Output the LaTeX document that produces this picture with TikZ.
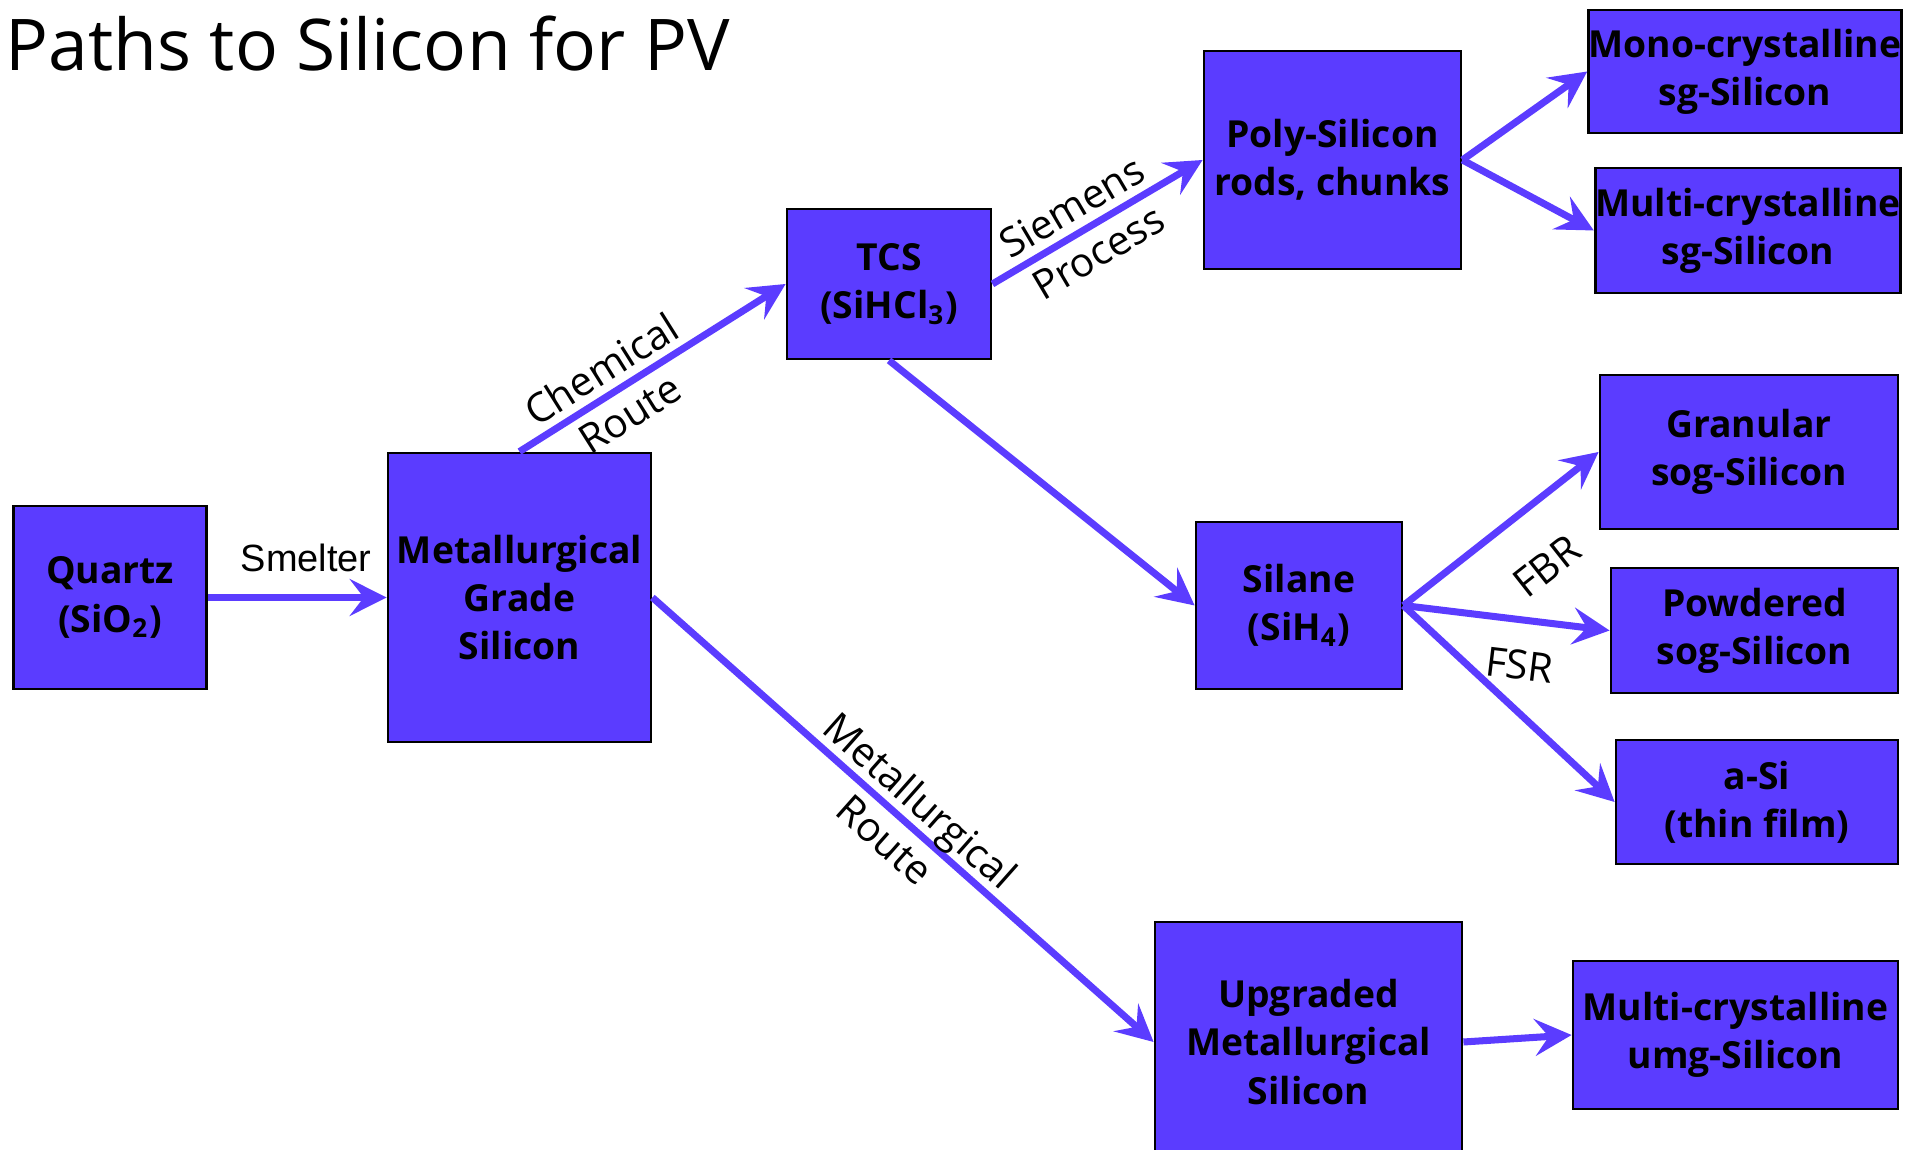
\documentclass[tikz,border=0pt]{standalone}
\usepackage{fontspec}
\setmainfont{Open Sans}
\newfontfamily\smeltfont{Liberation Sans}
\usetikzlibrary{arrows.meta}
\definecolor{siviolet}{RGB}{91,60,255}

\begin{document}
\begin{tikzpicture}[
    box/.style={draw=black, line width=0.8pt, fill=siviolet, align=center, inner sep=0pt,
        font=\fontsize{10.6}{13.7}\selectfont\bfseries},
    flow/.style={draw=siviolet, line width=2pt, -{Stealth[length=10.5pt, width=10.5pt, inset=4pt]}},
    route/.style={font=\fontsize{11.5}{15}\selectfont, align=center, sloped}
]
    % Page frame
    \clip (0,0) rectangle (19.2,11.49);

    % Title
    \node[anchor=base west, inner sep=0pt, font=\fontsize{20.3}{24}\selectfont] (title) at (0.05,10.78) {Paths to Silicon for PV};

    % Raw material and metallurgical grade
    \node[box, minimum width=1.93cm, minimum height=1.83cm] (quartz) at (1.10,5.515) {Quartz\\(SiO\textsubscript{2})};
    \node[box, minimum width=2.63cm, minimum height=2.89cm] (mgs) at (5.195,5.515) {Metallurgical\\Grade\\Silicon};

    % Chemical route
    \node[box, minimum width=2.04cm, minimum height=1.50cm] (tcs) at (8.89,8.65) {TCS\\(SiHCl\textsubscript{3})};
    \node[box, minimum width=2.57cm, minimum height=2.18cm] (poly) at (13.325,9.89) {Poly-Silicon\\rods, chunks};
    \node[box, minimum width=2.06cm, minimum height=1.67cm] (silane) at (12.99,5.435) {Silane\\(SiH\textsubscript{4})};

    % Siemens products
    \node[box, minimum width=3.06cm, minimum height=1.23cm] (mono) at (17.45,10.775) {Mono-crystalline\\sg-Silicon};
    \node[box, minimum width=3.00cm, minimum height=1.25cm] (multisg) at (17.48,9.185) {Multi-crystalline\\sg-Silicon};

    % Silane products
    \node[box, minimum width=2.98cm, minimum height=1.54cm] (granular) at (17.49,6.97) {Granular\\sog-Silicon};
    \node[box, minimum width=2.87cm, minimum height=1.25cm] (powdered) at (17.545,5.185) {Powdered\\sog-Silicon};
    \node[box, minimum width=2.82cm, minimum height=1.24cm] (asi) at (17.57,3.47) {a-Si\\(thin film)};

    % Metallurgical route
    \node[box, minimum width=3.07cm, minimum height=2.40cm] (umgs) at (13.085,1.07) {Upgraded\\Metallurgical\\Silicon};
    \node[box, minimum width=3.25cm, minimum height=1.48cm] (multiumg) at (17.355,1.14) {Multi-crystalline\\umg-Silicon};

    % Arrows
    \draw[flow] (quartz) -- node[above=3pt, pos=0.55, font=\smeltfont\fontsize{10.8}{13}\selectfont] (smelt) {Smelter} (mgs);
    \draw[flow] (mgs.north) -- node[route, pos=0.36] (chem) {Chemical\\Route} (tcs.west);
    \draw[flow] (tcs.east) -- node[route, pos=0.44] (siemens) {Siemens\\Process} (poly.west);
    \draw[flow] (tcs.south) -- (silane.west);
    \draw[flow] (mgs.east) -- node[route, pos=0.5] (metroute) {Metallurgical\\Route} (umgs.west);

    \draw[flow] (poly.east) -- (mono.west);
    \draw[flow] (poly.east) -- (multisg.west);

    \draw[flow] (silane.east) -- node[route, below=0.28cm, pos=0.55] (fbr) {FBR} (granular.west);
    \draw[flow] (silane.east) -- node[route, below=0.15cm, pos=0.59] (fsr) {FSR} (powdered.west);
    \draw[flow] (silane.east) -- (asi.west);

    \draw[flow] (umgs.east) -- (multiumg.west);
\end{tikzpicture}
\end{document}
